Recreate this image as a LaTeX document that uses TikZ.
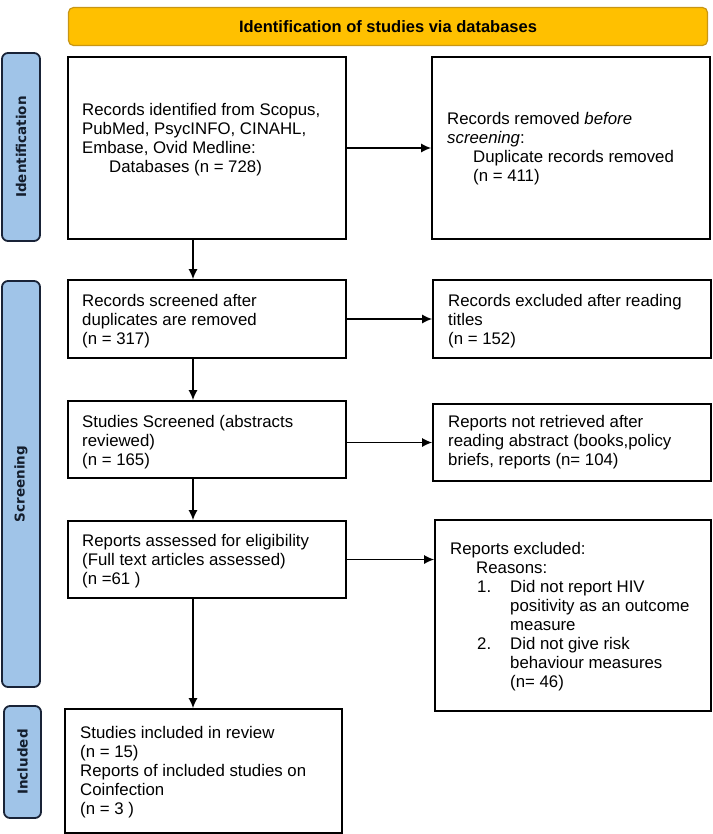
\documentclass[tikz,border=0pt]{standalone}
\usepackage{fontspec}
\setmainfont{Liberation Sans}
\newfontfamily\sidefont{DejaVu Sans}
\usetikzlibrary{arrows.meta}
\definecolor{titlefill}{RGB}{255,192,0}
\definecolor{titledraw}{RGB}{200,150,20}
\definecolor{sidefill}{RGB}{160,196,232}
\definecolor{sidedraw}{RGB}{25,35,55}
\definecolor{sidetext}{RGB}{20,30,45}
\begin{document}
\begin{tikzpicture}[x=1pt,y=-1pt,
  box/.style={draw=black, line width=1.6pt, rectangle, inner sep=0pt},
  txt/.style={anchor=north west, inner sep=0pt, align=left, font=\fontsize{16.8}{19}\selectfont},
  side/.style={draw=sidedraw, fill=sidefill, line width=1.8pt, rounded corners=6pt, inner sep=0pt},
  sidelbl/.style={rotate=90, text=sidetext, font=\sidefont\bfseries\fontsize{13.5}{16}\selectfont},
  arr/.style={-{Latex[length=10pt,width=9pt]}, line width=1.5pt}]
\useasboundingbox (0,0) rectangle (712,834);
% title
\node[draw=titledraw, fill=titlefill, line width=1.2pt, rounded corners=5pt, minimum width=639pt, minimum height=38pt, inner sep=0pt,
  font=\bfseries\fontsize{16.5}{19}\selectfont] (title) at (388,26.5) {Identification of studies via databases};
% side bars
\node[side, minimum width=38pt, minimum height=188pt] (sid) at (21,147) {};
\node[sidelbl] (sidl) at (sid.center) {Identification};
\node[side, minimum width=38pt, minimum height=406pt] (sscr) at (21,484) {};
\node[sidelbl] (sscrl) at (sscr.center) {Screening};
\node[side, minimum width=37pt, minimum height=112pt] (sinc) at (22.5,762) {};
\node[sidelbl] (sincl) at (sinc.center) {Included};
% boxes
\node[box, minimum width=278pt, minimum height=182pt] (b1) at (207,148) {};
\node[box, minimum width=278pt, minimum height=182pt] (b2) at (571,148) {};
\node[box, minimum width=278pt, minimum height=78pt] (b3) at (207,319) {};
\node[box, minimum width=278pt, minimum height=78pt] (b4) at (572,319) {};
\node[box, minimum width=278pt, minimum height=77pt] (b5) at (207,439.5) {};
\node[box, minimum width=278pt, minimum height=77pt] (b6) at (572,442.5) {};
\node[box, minimum width=278pt, minimum height=77pt] (b7) at (207,559.5) {};
\node[box, minimum width=276pt, minimum height=191pt] (b8) at (573,615.5) {};
\node[box, minimum width=277pt, minimum height=124pt] (b9) at (203.5,771) {};
% texts
\node[txt] (t1) at (82,103.5) {Records identified from Scopus,\\PubMed, PsycINFO, CINAHL,\\Embase, Ovid Medline:\\\hspace*{27pt}Databases (n = 728)};
\node[txt] (t2) at (447,112.5) {Records removed \textit{before}\\\textit{screening}:\\\hspace*{26pt}Duplicate records removed\\\hspace*{26pt}(n = 411)};
\node[txt] (t3) at (82,294.5) {Records screened after\\duplicates are removed\\(n = 317)};
\node[txt] (t4) at (448,294.5) {Records excluded after reading\\titles\\(n = 152)};
\node[txt] (t5) at (82,415.5) {Studies Screened (abstracts\\reviewed)\\(n = 165)};
\node[txt] (t6) at (448,415.5) {Reports not retrieved after\\reading abstract (books,policy\\briefs, reports (n= 104)};
\node[txt] (t7) at (82,534.5) {Reports assessed for eligibility\\(Full text articles assessed)\\(n =61 )};
\node[txt] (t8) at (450,542.5) {Reports excluded:\\\hspace*{26pt}Reasons:\\\hspace*{27pt}\makebox[33pt][l]{1.}Did not report HIV\\\hspace*{60pt}positivity as an outcome\\\hspace*{60pt}measure\\\hspace*{27pt}\makebox[33pt][l]{2.}Did not give risk\\\hspace*{60pt}behaviour measures\\\hspace*{60pt}(n= 46)};
\node[txt] (t9) at (80,726.5) {Studies included in review\\(n = 15)\\Reports of included studies on\\Coinfection\\(n = 3 )};
% arrows
\coordinate (ax) at (193,0);
\draw[arr] (b1.east) -- (b2.west);
\draw[arr] (b3.east) -- (b4.west);
\draw[arr] (b5.east |- b6.west) -- (b6.west);
\draw[arr] (b7.east) -- (b7.east -| b8.west);
\draw[arr] (b1.south -| ax) -- (b3.north -| ax);
\draw[arr] (b3.south -| ax) -- (b5.north -| ax);
\draw[arr] (b5.south -| ax) -- (b7.north -| ax);
\draw[arr] (b7.south -| ax) -- (b9.north -| ax);
\end{tikzpicture}
\end{document}
